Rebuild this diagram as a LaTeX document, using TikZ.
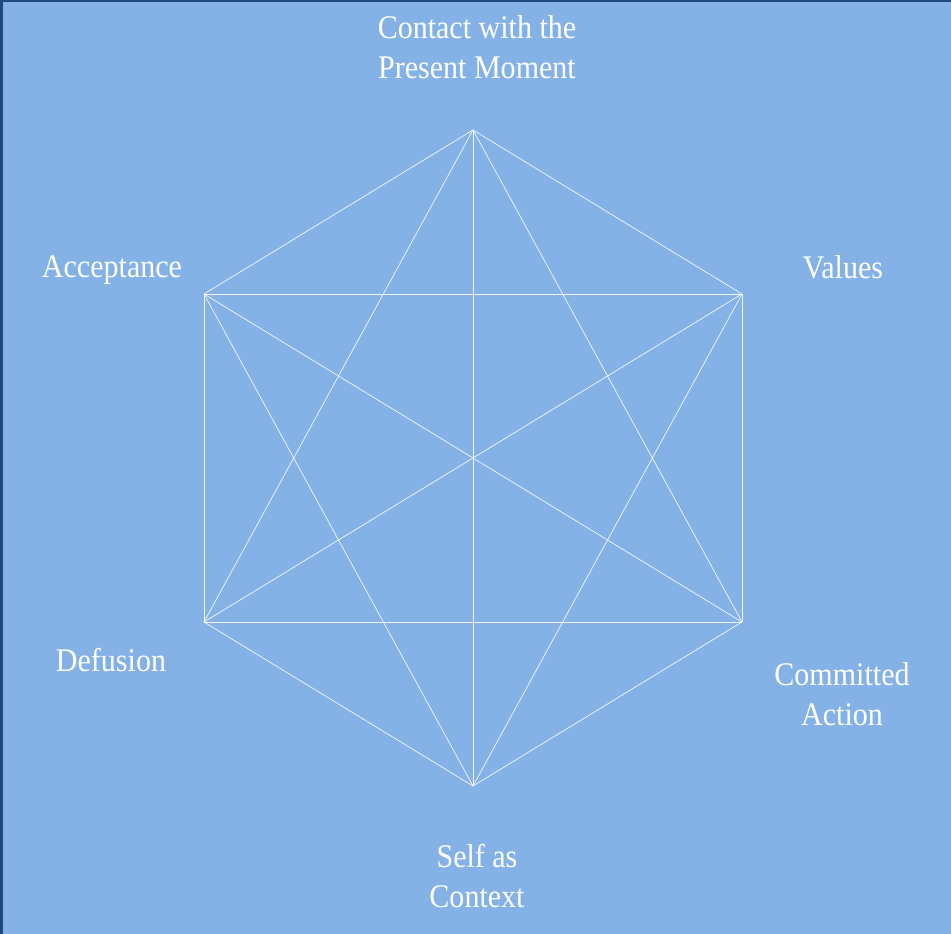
\documentclass[tikz,border=0pt]{standalone}
\usepackage{fontspec}
\setmainfont{Liberation Serif}[FakeStretch=0.91]
\definecolor{bgblue}{HTML}{84B2E6}
\definecolor{edgeblue}{HTML}{1F4A80}
\begin{document}
\begin{tikzpicture}[x=1pt,y=-1pt,
  lbl/.style={text=white,font=\fontsize{33}{40}\selectfont,align=center,inner sep=0pt},
  link/.style={draw=white,line width=0.7pt,opacity=0.9}]
\fill[edgeblue] (0,0) rectangle (951,934);
\fill[bgblue] (2.5,2.5) rectangle (951,934);
\useasboundingbox (0,0) rectangle (951,934);
\coordinate (T) at (473,130);
\coordinate (UL) at (204,294);
\coordinate (UR) at (742,294);
\coordinate (LL) at (204,622);
\coordinate (LR) at (742,622);
\coordinate (B) at (473,786);
\foreach \a/\b in {T/UL,T/UR,T/LL,T/LR,T/B,UL/UR,UL/LL,UL/LR,UL/B,UR/LL,UR/LR,UR/B,LL/LR,LL/B,LR/B}
  \draw[link] (\a) -- (\b);
\node[lbl] (ctc) at (477,47) {Contact with the\\Present Moment};
\node[lbl] (acc) at (112,270) {Acceptance};
\node[lbl] (val) at (843,267) {Values};
\node[lbl] (def) at (111,660) {Defusion};
\node[lbl] (com) at (842,694) {Committed\\Action};
\node[lbl] (sac) at (477,876) {Self as\\Context};
\end{tikzpicture}
\end{document}
